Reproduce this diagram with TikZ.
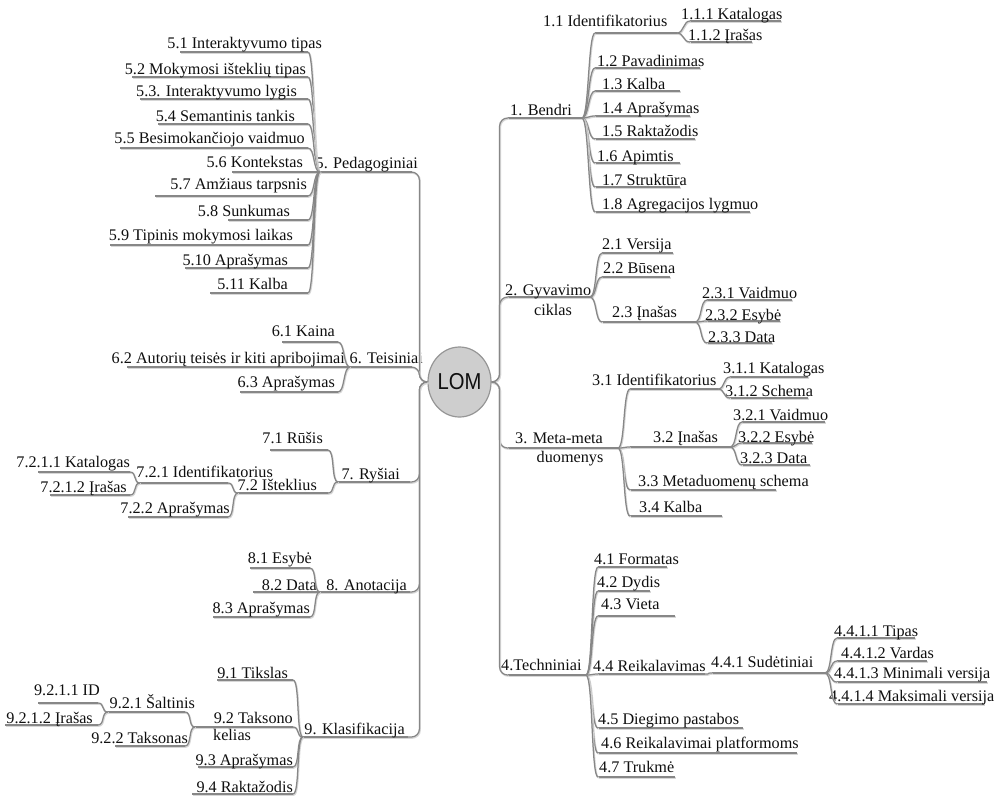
\documentclass[tikz,border=0pt]{standalone}
\usepackage{fontspec}
\setmainfont{Liberation Serif}
\newfontfamily\lomfont{Liberation Sans}
\usetikzlibrary{shapes.geometric}

\definecolor{linkgray}{RGB}{135,135,135}
\definecolor{shade}{RGB}{215,215,215}
\definecolor{inkc}{RGB}{15,15,15}
\definecolor{lomfill}{RGB}{206,206,206}
\definecolor{lomedge}{RGB}{150,150,150}

\tikzset{
  link/.style={draw=linkgray, line width=1.25pt,
    preaction={draw=shade, line width=1.6pt, transform canvas={shift={(0.7pt,-1pt)}}}},
  lbl/.style={font=\fontsize{16.2}{19}\selectfont, text=inkc, inner sep=0pt,
    text height=10pt, text depth=0pt},
  trunk/.style={link, rounded corners=8pt},
}

% topic on the right: name, line x1, line x2, line y, text left x, text y, text
\newcommand\RTopic[7]{%
  \coordinate (#1-s) at (#2,#4);
  \coordinate (#1-e) at (#3,#4);
  \draw[link] (#1-s) -- (#1-e);
  \node[lbl, anchor=west] (#1) at (#5,#6) {#7};}
% topic on the left: name, line x1, line x2, line y, text right x, text y, text
\newcommand\LTopic[7]{%
  \coordinate (#1-s) at (#2,#4);
  \coordinate (#1-e) at (#3,#4);
  \draw[link] (#1-s) -- (#1-e);
  \node[lbl, anchor=east] (#1) at (#5,#6) {#7};}
% curved links from a parent to its children
\newcommand\RLink[2]{\draw[link] (#1-e) to[out=0, in=180, distance=7pt] (#2-s);}
\newcommand\LLink[2]{\draw[link] (#1-s) to[out=180, in=0, distance=7pt] (#2-e);}

\begin{document}
\begin{tikzpicture}[x=1pt, y=-1pt]
\fill[white] (0,0) rectangle (998,796);
\useasboundingbox (0,0) rectangle (998,796);

\node[ellipse, draw=lomedge, fill=lomfill, line width=1.2pt,
      minimum width=63pt, minimum height=70pt, inner sep=0pt,
      font=\lomfont\fontsize{23}{26}\selectfont, text=inkc] (lom) at (459.5,382)
      {\scalebox{0.88}[1]{LOM}};

% ---------- 1. Bendri ----------
\RTopic{n1}{508}{582}{118}{510}{110}{1. Bendri}
\RTopic{n11}{595}{677}{33}{543}{21}{1.1 Identifikatorius}
\RTopic{n111}{690}{781}{21}{681}{14}{1.1.1 Katalogas}
\RTopic{n112}{690}{752}{42}{688}{35}{1.1.2 Įrašas}
\RTopic{n12}{595}{700}{68}{597}{61}{1.2 Pavadinimas}
\RTopic{n13}{595}{680}{91}{602}{84}{1.3 Kalba}
\RTopic{n14}{595}{690}{116}{602}{108}{1.4 Aprašymas}
\RTopic{n15}{595}{695}{139}{602}{131}{1.5 Raktažodis}
\RTopic{n16}{595}{680}{163}{597}{156}{1.6 Apimtis}
\RTopic{n17}{595}{680}{187}{602}{180}{1.7 Struktūra}
\RTopic{n18}{595}{750}{212}{602}{204}{1.8 Agregacijos lygmuo}

% ---------- 2. Gyvavimo ciklas ----------
\RTopic{n2}{508}{590}{297}{505}{290}{2. Gyvavimo}
\node[lbl] (n2b) at (553,310) {ciklas};
\RTopic{n21}{602}{673}{253}{602}{244}{2.1 Versija}
\RTopic{n22}{602}{670}{277}{603}{268}{2.2 Būsena}
\RTopic{n23}{602}{695}{322}{612}{312}{2.3 Įnašas}
\RTopic{n231}{707}{792}{300}{702}{293}{2.3.1 Vaidmuo}
\RTopic{n232}{707}{780}{321}{705}{315}{2.3.2 Esybė}
\RTopic{n233}{707}{772}{343}{708}{337}{2.3.3 Data}

% ---------- 3. Meta-meta duomenys ----------
\RTopic{n3}{508}{618}{448}{515}{438}{3. Meta-meta}
\node[lbl] (n3b) at (570,457) {duomenys};
\RTopic{n31}{630}{718}{389}{592}{380}{3.1 Identifikatorius}
\RTopic{n311}{730}{808}{377}{723}{368}{3.1.1 Katalogas}
\RTopic{n312}{730}{808}{398}{725}{391}{3.1.2 Schema}
\RTopic{n32}{630}{730}{447}{653}{437}{3.2 Įnašas}
\RTopic{n321}{742}{825}{422}{733}{415}{3.2.1 Vaidmuo}
\RTopic{n322}{742}{812}{443}{738}{437}{3.2.2 Esybė}
\RTopic{n323}{742}{810}{465}{740}{458}{3.2.3 Data}
\RTopic{n33}{630}{776}{490}{638}{481}{3.3 Metaduomenų schema}
\RTopic{n34}{630}{722}{516}{639}{507}{3.4 Kalba}

% ---------- 4. Techniniai ----------
\RTopic{n4}{508}{586}{675}{501}{665}{4.Techniniai}
\RTopic{n41}{598}{667}{567}{594}{559}{4.1 Formatas}
\RTopic{n42}{598}{650}{591}{597}{582}{4.2 Dydis}
\RTopic{n43}{598}{675}{616}{601}{604}{4.3 Vieta}
\RTopic{n44}{598}{705}{674}{593}{666}{4.4 Reikalavimas}
\RTopic{n441}{712}{825}{673}{711}{662}{4.4.1 Sudėtiniai}
\RTopic{n4411}{837}{915}{638}{834}{631}{4.4.1.1 Tipas}
\RTopic{n4412}{837}{927}{661}{841}{653}{4.4.1.2 Vardas}
\RTopic{n4413}{837}{987}{682}{834}{673}{4.4.1.3 Minimali versija}
\RTopic{n4414}{837}{984}{704}{829}{696}{4.4.1.4 Maksimali versija}
\RTopic{n45}{598}{743}{728}{598}{719}{4.5 Diegimo pastabos}
\RTopic{n46}{598}{797}{753}{601}{743}{4.6 Reikalavimai platformoms}
\RTopic{n47}{598}{675}{777}{599}{767}{4.7 Trukmė}

% ---------- 5. Pedagoginiai ----------
\LTopic{n5}{320}{412}{172}{418}{163}{5. Pedagoginiai}
\LTopic{n51}{180}{308}{52}{322}{43}{5.1 Interaktyvumo tipas}
\LTopic{n52}{132}{308}{77}{306}{69}{5.2 Mokymosi išteklių tipas}
\LTopic{n53}{140}{308}{99}{297}{91}{5.3. Interaktyvumo lygis}
\LTopic{n54}{158}{308}{124}{295}{116}{5.4 Semantinis tankis}
\LTopic{n55}{120}{308}{148}{305}{138}{5.5 Besimokančiojo vaidmuo}
\LTopic{n56}{232}{308}{172}{303}{162}{5.6 Kontekstas}
\LTopic{n57}{155}{308}{196}{307}{184}{5.7 Amžiaus tarpsnis}
\LTopic{n58}{228}{308}{220}{290}{211}{5.8 Sunkumas}
\LTopic{n59}{110}{308}{245}{293}{235}{5.9 Tipinis mokymosi laikas}
\LTopic{n510}{185}{308}{268}{288}{260}{5.10 Aprašymas}
\LTopic{n511}{210}{308}{293}{288}{284}{5.11 Kalba}

% ---------- 6. Teisiniai ----------
\LTopic{n6}{350}{412}{367}{423}{358}{6. Teisiniai}
\LTopic{n61}{282}{338}{342}{335}{331}{6.1 Kaina}
\LTopic{n62}{127}{338}{367}{345}{358}{6.2 Autorių teisės ir kiti apribojimai}
\LTopic{n63}{240}{338}{392}{335}{382}{6.3 Aprašymas}

% ---------- 7. Ryšiai ----------
\LTopic{n7}{338}{410}{482}{400}{474}{7. Ryšiai}
\LTopic{n71}{270}{328}{450}{323}{438}{7.1 Rūšis}
\LTopic{n72}{238}{328}{493}{317}{485}{7.2 Išteklius}
\LTopic{n721}{140}{228}{483}{273}{472}{7.2.1 Identifikatorius}
\LTopic{n7211}{38}{130}{472}{130}{462}{7.2.1.1 Katalogas}
\LTopic{n7212}{50}{130}{495}{127}{487}{7.2.1.2 Įrašas}
\LTopic{n722}{128}{228}{517}{230}{508}{7.2.2 Aprašymas}

% ---------- 8. Anotacija ----------
\LTopic{n8}{320}{410}{592}{407}{585}{8. Anotacija}
\LTopic{n81}{250}{310}{568}{312}{558}{8.1 Esybė}
\LTopic{n82}{253}{310}{592}{317}{585}{8.2 Data}
\LTopic{n83}{213}{310}{617}{310}{608}{8.3 Aprašymas}

% ---------- 9. Klasifikacija ----------
\LTopic{n9}{303}{408}{737}{405}{729}{9. Klasifikacija}
\LTopic{n91}{217}{293}{680}{288}{673}{9.1 Tikslas}
\LTopic{n92}{195}{293}{727}{293}{718}{9.2 Taksono}
\node[lbl, anchor=west] (n92b) at (213,735) {kelias};
\LTopic{n921}{108}{185}{712}{195}{703}{9.2.1 Šaltinis}
\LTopic{n9211}{38}{98}{703}{100}{690}{9.2.1.1 ID}
\LTopic{n9212}{5}{98}{725}{93}{718}{9.2.1.2 Įrašas}
\LTopic{n922}{115}{185}{746}{188}{738}{9.2.2 Taksonas}
\LTopic{n93}{198}{293}{767}{293}{760}{9.3 Aprašymas}
\LTopic{n94}{192}{293}{794}{293}{787}{9.4 Raktažodis}

% ---------- trunks from the central topic ----------
\foreach \t in {n1,n2,n3,n4}
  {\draw[trunk] (lom.east) -- ++(8,0) |- (\t-s);}
\foreach \t in {n5,n6,n7,n8,n9}
  {\draw[trunk] (lom.west) -- ++(-8,0) |- (\t-e);}

% ---------- child links ----------
\foreach \c in {n11,n12,n13,n14,n15,n16,n17,n18} {\RLink{n1}{\c}}
\foreach \c in {n111,n112} {\RLink{n11}{\c}}
\foreach \c in {n21,n22,n23} {\RLink{n2}{\c}}
\foreach \c in {n231,n232,n233} {\RLink{n23}{\c}}
\foreach \c in {n31,n32,n33,n34} {\RLink{n3}{\c}}
\foreach \c in {n311,n312} {\RLink{n31}{\c}}
\foreach \c in {n321,n322,n323} {\RLink{n32}{\c}}
\foreach \c in {n41,n42,n43,n44,n45,n46,n47} {\RLink{n4}{\c}}
\RLink{n44}{n441}
\foreach \c in {n4411,n4412,n4413,n4414} {\RLink{n441}{\c}}

\foreach \c in {n51,n52,n53,n54,n55,n56,n57,n58,n59,n510,n511} {\LLink{n5}{\c}}
\foreach \c in {n61,n62,n63} {\LLink{n6}{\c}}
\foreach \c in {n71,n72} {\LLink{n7}{\c}}
\foreach \c in {n721,n722} {\LLink{n72}{\c}}
\foreach \c in {n7211,n7212} {\LLink{n721}{\c}}
\foreach \c in {n81,n82,n83} {\LLink{n8}{\c}}
\foreach \c in {n91,n92,n93,n94} {\LLink{n9}{\c}}
\foreach \c in {n921,n922} {\LLink{n92}{\c}}
\foreach \c in {n9211,n9212} {\LLink{n921}{\c}}
\end{tikzpicture}
\end{document}
